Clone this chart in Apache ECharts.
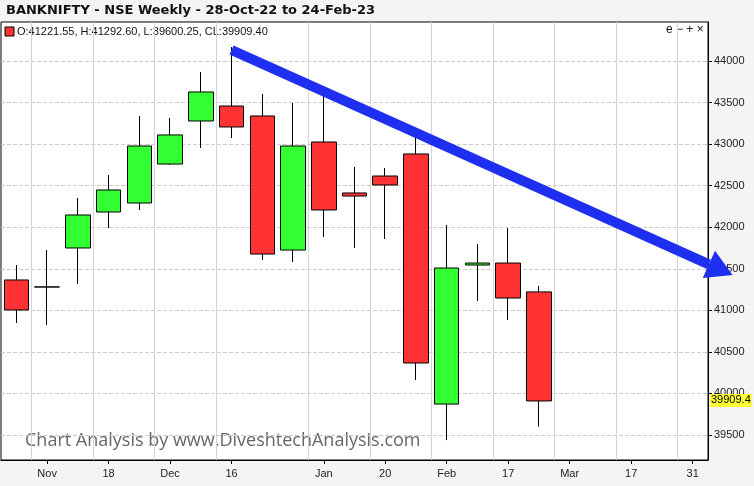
<!DOCTYPE html>
<html>
<head>
<meta charset="utf-8">
<script src="https://cdn.jsdelivr.net/npm/echarts@6/dist/echarts.min.js"></script>
<style>
  html, body { margin: 0; padding: 0; background: #f4f4f4; }
  #main { width: 754px; height: 486px; }
</style>
</head>
<body>
<div id="main"></div>
<script>
// weekly candles, then empty weeks up to end of March
var weeks = ['28-Oct','04-Nov','11-Nov','18-Nov','25-Nov','02-Dec','09-Dec','16-Dec','23-Dec','30-Dec',
  '06-Jan','13-Jan','20-Jan','27-Jan','03-Feb','10-Feb','17-Feb','24-Feb','03-Mar','10-Mar','17-Mar','24-Mar','31-Mar'];
var tickLabels = ['', 'Nov', '', '18', '', 'Dec', '', '16', '', '', 'Jan', '', '20', '', 'Feb', '', '17', '', 'Mar', '', '17', '', '31'];
// open, close, low, high
var ohlc = [
  [41365, 41004, 40847, 41545],
  [41280, 41282, 40823, 41725],
  [41750, 42147, 41317, 42350],
  [42183, 42448, 41990, 42628],
  [42291, 42977, 42207, 43338],
  [42760, 43110, 42749, 43314],
  [43278, 43627, 42953, 43868],
  [43458, 43206, 43073, 44168],
  [43338, 41677, 41605, 43603],
  [41725, 42977, 41581, 43495],
  [43025, 42207, 41882, 43579],
  [42412, 42375, 41750, 42724],
  [42616, 42508, 41858, 42712],
  [42881, 40366, 40161, 43097],
  [39872, 41509, 39439, 42026],
  [41545, 41569, 41112, 41798],
  [41569, 41148, 40883, 41990],
  [41221.55, 39909.40, 39600.25, 41292.60]
];
var priceTicks = [39500, 40000, 40500, 41000, 41500, 42000, 42500, 43000, 43500, 44000];
var lastClose = 39909.4;
// trend arrow: [week index, price]
var arrowFrom = [7, 44132];
var arrowTo = [23.3, 41425];

var chart = echarts.init(document.getElementById('main'));
var font = 'Liberation Sans';

var option = {
  backgroundColor: '#f4f4f4',
  animation: false,
  grid: { left: 1, right: 46, top: 22, bottom: 26, show: true, backgroundColor: '#fff', borderColor: '#000', borderWidth: 1 },
  xAxis: {
    type: 'category', data: weeks, boundaryGap: true,
    axisLine: { lineStyle: { color: '#000' } },
    axisTick: { show: true, alignWithLabel: true, length: 4, lineStyle: { color: '#000' },
      interval: function (i) { return tickLabels[i] !== ''; } },
    axisLabel: { color: '#222', fontFamily: font, fontSize: 11, margin: 8,
      interval: 0, formatter: function (v, i) { return tickLabels[i]; } },
    splitLine: { show: true, interval: function (i) { return tickLabels[i] !== ''; },
      lineStyle: { color: '#d4d4d4', type: 'solid' } }
  },
  yAxis: {
    type: 'value', position: 'right', min: 39199, max: 44469, scale: true,
    axisLine: { show: true, lineStyle: { color: '#000' } },
    axisTick: { show: true, customValues: priceTicks, length: 4, lineStyle: { color: '#000' } },
    axisLabel: { customValues: priceTicks, color: '#222', fontFamily: font, fontSize: 11, margin: 6,
      formatter: function (v) { return String(v); } },
    splitLine: { show: true, lineStyle: { color: '#ccc', type: 'dashed' } }
  },
  series: [{
    type: 'candlestick',
    data: ohlc,
    barWidth: 25,
    itemStyle: { color: '#33ff33', color0: '#ff3333', borderColor: '#000', borderColor0: '#000', borderWidth: 1 }
  }],
  graphic: [
    { type: 'text', left: 6, top: 4, style: { text: 'BANKNIFTY - NSE Weekly - 28-Oct-22 to 24-Feb-23',
      font: 'bold 13px "DejaVu Sans"', fill: '#111' } },
    { type: 'rect', shape: { x: 5, y: 27, width: 9, height: 9 }, style: { fill: '#ff3333', stroke: '#000' } },
    { type: 'text', left: 17, top: 26, style: { text: 'O:41221.55, H:41292.60, L:39600.25, CL:39909.40',
      font: '11px "Liberation Sans"', fill: '#111' } },
    { type: 'text', left: 666, top: 24, style: { text: 'e \u2212 + \u00d7', font: '12px "Liberation Sans"', fill: '#111' } },
    { type: 'text', left: 25, top: 432, style: { text: 'Chart Analysis by www.DiveshtechAnalysis.com',
      font: '18px "Open Sans"', fill: '#555', opacity: 0.9 } }
  ]
};
chart.setOption(option);

// draw the trend arrow and last-close tag from data coordinates
var p0 = chart.convertToPixel({ seriesIndex: 0 }, [0, arrowFrom[1]]);
var p1 = chart.convertToPixel({ seriesIndex: 0 }, [1, arrowTo[1]]);
var pc = chart.convertToPixel({ seriesIndex: 0 }, [0, lastClose]);
var step = p1[0] - p0[0];
var x0 = p0[0] + step * arrowFrom[0], y0 = p0[1];
var x1 = p0[0] + step * arrowTo[0], y1 = p1[1];
var ang = Math.atan2(y1 - y0, x1 - x0);
var hl = 26, hw = 15;
var bx = x1 - hl * Math.cos(ang), by = y1 - hl * Math.sin(ang);
chart.setOption({
  graphic: option.graphic.concat([
    { type: 'line', z: 100, shape: { x1: x0, y1: y0, x2: bx, y2: by },
      style: { stroke: '#1f2ff0', lineWidth: 10 } },
    { type: 'polygon', z: 100, shape: { points: [[x1, y1],
      [bx + hw * Math.sin(ang), by - hw * Math.cos(ang)],
      [bx - hw * Math.sin(ang), by + hw * Math.cos(ang)]] },
      style: { fill: '#1f2ff0' } },
    { type: 'text', z: 100, x: 710, y: pc[1] - 7, style: { text: String(lastClose),
      font: '11px "Liberation Sans"', fill: '#000', backgroundColor: '#ffff33', padding: [1, 1] } }
  ])
});
</script>
</body>
</html>
